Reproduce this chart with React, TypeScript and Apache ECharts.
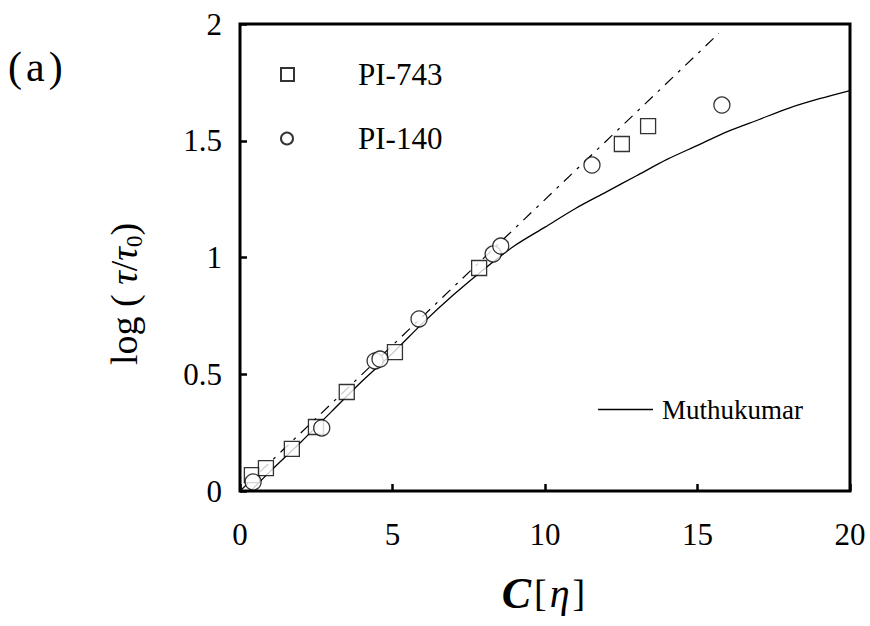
import React, { useEffect, useRef } from "react";
import * as echarts from "echarts";

const pi743X = [0.39, 0.85, 1.7, 2.49, 3.5, 5.08, 7.84, 12.52, 13.38];
const pi743Y = [0.068, 0.098, 0.18, 0.274, 0.424, 0.595, 0.955, 1.486, 1.563];

const pi140X = [0.43, 2.68, 4.43, 4.59, 5.87, 8.3, 8.55, 11.54, 15.8];
const pi140Y = [0.039, 0.27, 0.557, 0.565, 0.737, 1.015, 1.049, 1.396, 1.653];

const muthX = [0.35, 1, 2, 3, 4, 5, 6, 7, 8, 9, 10, 11, 12, 13, 14, 15, 16, 17, 18, 19, 20];
const muthY = [0.0, 0.085, 0.21, 0.34, 0.47, 0.59, 0.72, 0.84, 0.95, 1.05, 1.13, 1.21, 1.28, 1.35, 1.42, 1.48, 1.54, 1.59, 1.64, 1.68, 1.715];

const dashX = [0, 15.7];
const dashY = [0, 1.96];

const xTicks = [0, 5, 10, 15, 20];
const yTicks = [0, 0.5, 1, 1.5, 2];

const zip = (xs: number[], ys: number[]) => xs.map((x, i) => [x, ys[i]]);

const FONT = "Liberation Serif";

export default function App() {
  const ref = useRef<HTMLDivElement>(null);
  useEffect(() => {
    if (!ref.current) return;
    const chart = echarts.init(ref.current, null, { renderer: "svg" });
    chart.setOption({
      animation: false,
      backgroundColor: "#fff",
      textStyle: { fontFamily: FONT, color: "#000" },
      grid: {
        left: 240,
        right: 20,
        top: 24,
        bottom: 135,
        show: true,
        borderColor: "#000",
        borderWidth: 3,
      },
      xAxis: {
        type: "value",
        min: xTicks[0],
        max: xTicks[xTicks.length - 1],
        interval: 5,
        axisLine: { show: false },
        axisTick: { show: true, inside: true, length: 7, lineStyle: { color: "#000", width: 2.5 } },
        splitLine: { show: false },
        axisLabel: { margin: 28, fontSize: 31, fontFamily: FONT, color: "#000" },
        name: "{c|C}{n|[}{e|η}{n|]}",
        nameLocation: "middle",
        nameGap: 80,
        nameTextStyle: {
          rich: {
            c: { fontSize: 44, fontStyle: "italic", fontWeight: "bold", fontFamily: FONT, color: "#000" },
            n: { fontSize: 38, fontFamily: FONT, color: "#000", padding: [0, 3, 0, 3] },
            e: { fontSize: 40, fontStyle: "italic", fontFamily: FONT, color: "#000" },
          },
        },
      },
      yAxis: {
        type: "value",
        min: yTicks[0],
        max: yTicks[yTicks.length - 1],
        interval: 0.5,
        axisLine: { show: false },
        axisTick: { show: true, inside: true, length: 7, lineStyle: { color: "#000", width: 2.5 } },
        splitLine: { show: false },
        axisLabel: { margin: 18, fontSize: 31, fontFamily: FONT, color: "#000" },
      },
      legend: [
        {
          data: ["PI-743"],
          left: 275,
          top: 54,
          itemWidth: 13,
          itemHeight: 13,
          icon: "rect",
          textStyle: { fontSize: 31, fontFamily: FONT, color: "#000", padding: [0, 0, 0, 59] },
        },
        {
          data: ["PI-140"],
          left: 275,
          top: 118,
          itemWidth: 12,
          itemHeight: 12,
          icon: "circle",
          textStyle: { fontSize: 31, fontFamily: FONT, color: "#000", padding: [0, 0, 0, 60] },
        },
        {
          data: ["Muthukumar"],
          left: 593,
          top: 391,
          itemWidth: 55,
          itemHeight: 1.5,
          icon: "rect",
          textStyle: { fontSize: 27, fontFamily: FONT, color: "#000", padding: [0, 0, 0, 4] },
        },
      ],
      graphic: [
        {
          type: "text",
          left: 8,
          top: 46,
          style: {
            text: "{p|(}{a|a}{p|)}",
            rich: {
              p: { fontSize: 42, fontFamily: FONT, fill: "#000" },
              a: { fontSize: 42, fontFamily: FONT, fill: "#000", padding: [0, 4, 0, 4] },
            },
          },
        },
        {
          type: "text",
          x: 124,
          y: 294,
          rotation: Math.PI / 2,
          style: {
            text: "{n|log ( }{i|τ}{n|/}{i|τ}{s|0}{n|)}",
            align: "center",
            verticalAlign: "middle",
            rich: {
              n: { fontSize: 38, fontFamily: FONT, fill: "#000", lineHeight: 44 },
              i: { fontSize: 38, fontStyle: "italic", fontFamily: FONT, fill: "#000", lineHeight: 44 },
              s: { fontSize: 23, fontFamily: FONT, fill: "#000", lineHeight: 44, verticalAlign: "bottom", padding: [15, 0, 0, 0] },
            },
          },
        },
      ],
      series: [
        {
          name: "dashed",
          type: "line",
          data: zip(dashX, dashY),
          showSymbol: false,
          symbol: "none",
          lineStyle: { color: "#000", width: 1.2, type: [11, 7, 3, 7] },
          z: 2,
        },
        {
          name: "Muthukumar",
          type: "line",
          data: zip(muthX, muthY),
          smooth: 0.3,
          showSymbol: false,
          symbol: "none",
          itemStyle: { color: "#000" },
          lineStyle: { color: "#000", width: 1.3 },
          z: 2,
        },
        {
          name: "PI-743",
          type: "scatter",
          data: zip(pi743X, pi743Y),
          symbol: "rect",
          symbolSize: 15,
          itemStyle: { color: "#fff", borderColor: "#000", borderWidth: 1.3 },
          z: 3,
        },
        {
          name: "PI-140",
          type: "scatter",
          data: zip(pi140X, pi140Y),
          symbol: "circle",
          symbolSize: 16,
          itemStyle: { color: "#fff", borderColor: "#000", borderWidth: 1.3 },
          z: 3,
        },
      ],
    });
    return () => chart.dispose();
  }, []);
  return <div ref={ref} style={{ width: 870, height: 626, position: "absolute", left: 0, top: 0 }} />;
}
